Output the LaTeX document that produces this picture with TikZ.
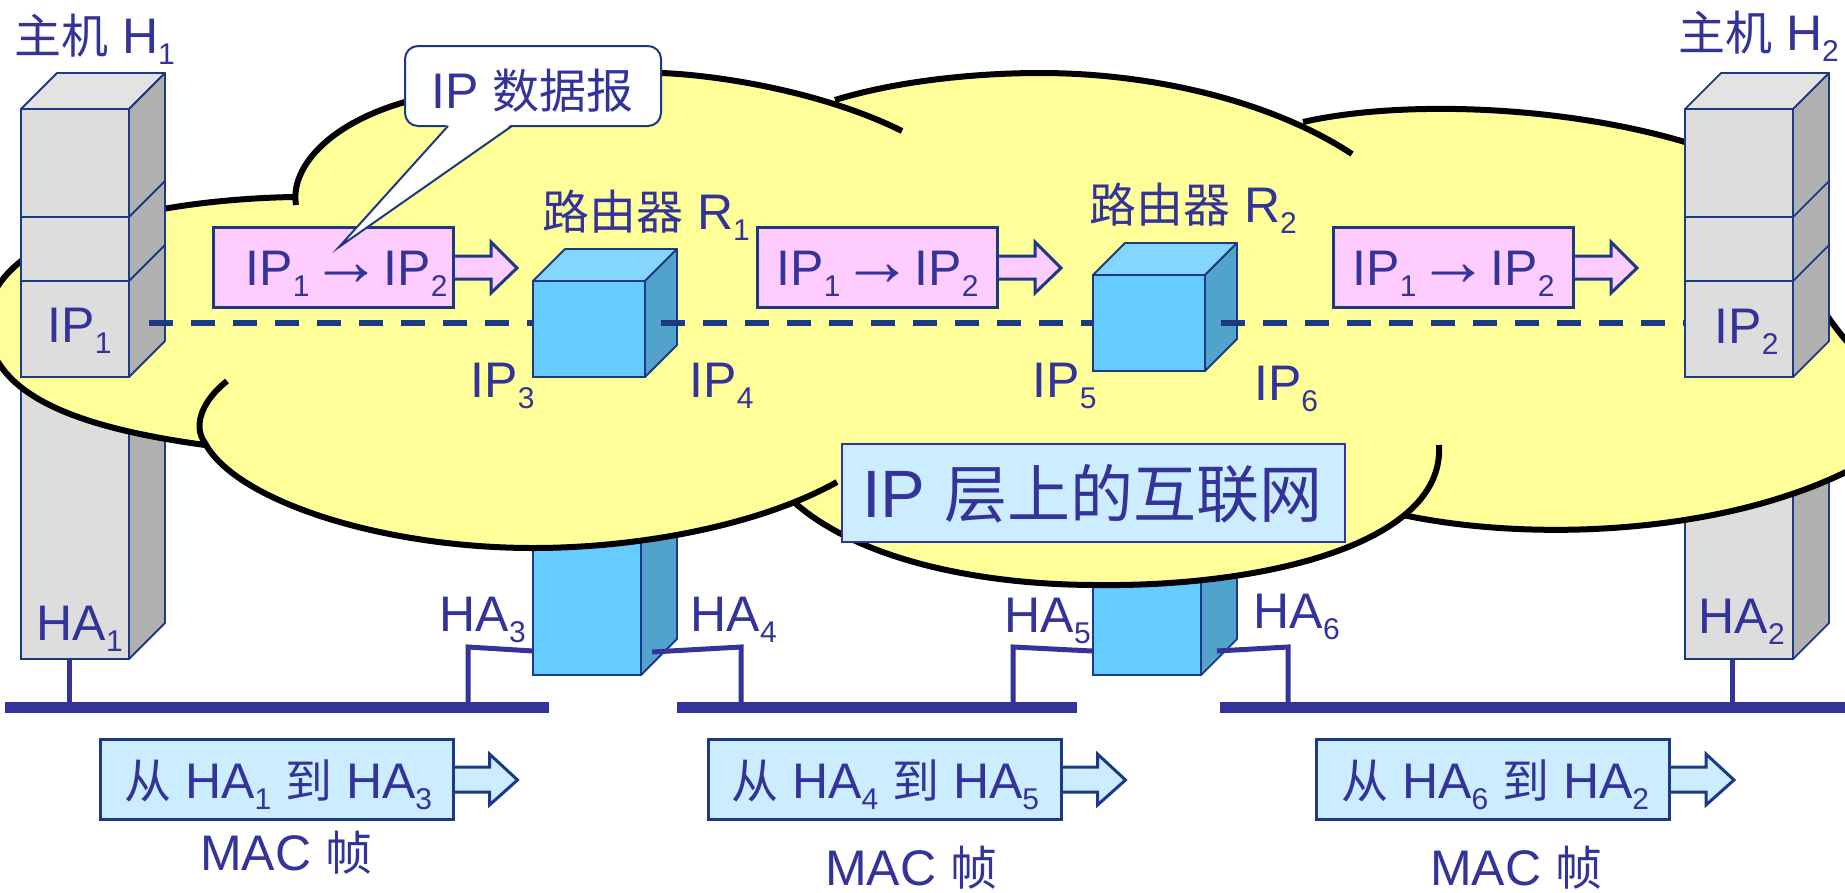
\documentclass[tikz,border=0pt]{standalone}
\usepackage{fontspec}
\setmainfont{Liberation Sans}
\newfontfamily\cjk[Scale=0.94]{Noto Sans CJK SC}
\newcommand{\zh}[1]{{\cjk #1}}
\newcommand{\sbn}[1]{\raisebox{-11pt}{\fontsize{30}{30}\selectfont #1}}

\definecolor{edgeblue}{HTML}{1C3A84}
\definecolor{textblue}{HTML}{333399}
\definecolor{cloudyellow}{HTML}{FFFF99}
\definecolor{packetpink}{HTML}{FFCCFF}
\definecolor{framecyan}{HTML}{CCECFF}
\definecolor{hostfront}{HTML}{DDDDDD}
\definecolor{hosttop}{HTML}{E3E3E3}
\definecolor{hostside}{HTML}{B0B0B0}
\definecolor{routerfront}{HTML}{66CCFF}
\definecolor{routertop}{HTML}{85D6FF}
\definecolor{routerside}{HTML}{52A3CC}

% cloud lobes
\newcommand{\lobea}{(293,197) .. controls (190,199) and (75,218) .. (20,262) .. controls (-15,290) and (-25,330) .. (0,365) .. controls (30,410) and (110,432) .. (205,445)}
\newcommand{\lobeb}{(296,205) .. controls (290,170) and (325,125) .. (405,102) .. controls (480,80) and (590,70) .. (662,73) .. controls (730,76) and (830,95) .. (902,131)}
\newcommand{\lobec}{(227,381) .. controls (203,400) and (192,425) .. (205,443) .. controls (235,500) and (380,548) .. (533,548) .. controls (640,548) and (760,525) .. (837,482)}
\newcommand{\lobed}{(795,503) .. controls (860,560) and (980,585) .. (1097,585) .. controls (1260,587) and (1445,545) .. (1439,445)}
\newcommand{\lobee}{(1403,515) .. controls (1530,542) and (1720,535) .. (1850,470)}
\newcommand{\lobef}{(1303,122) .. controls (1400,100) and (1560,105) .. (1685,142) .. controls (1745,160) and (1800,290) .. (1850,345)}
\newcommand{\lobeg}{(835,100) .. controls (900,80) and (980,73) .. (1040,73) .. controls (1150,73) and (1270,100) .. (1352,154)}

\begin{document}
\begin{tikzpicture}[
        x=1pt, y=-1pt,
        face/.style={draw=edgeblue, line width=1.8pt, inner sep=0pt, outer sep=0pt},
        hostface/.style={face, fill=hostfront, minimum width=108pt},
        routerface/.style={face, fill=routerfront},
        skin/.style={draw=edgeblue, line width=1.8pt, line join=round},
        lbl/.style={anchor=base west, inner sep=0pt, text=textblue, font=\fontsize{50}{60}\selectfont},
        framebox/.style={draw=edgeblue, line width=3pt, inner sep=0pt, outer sep=0pt, minimum height=80pt, minimum width=240pt},
        framearrow/.style={draw=edgeblue, line width=3pt, line join=miter},
        busbar/.style={fill=textblue, inner sep=0pt, outer sep=0pt, minimum height=11pt},
        stub/.style={draw=textblue, line width=5pt, line join=miter},
        cloudline/.style={draw=black, line width=6pt},
        dashlink/.style={draw=edgeblue, line width=5.5pt, dash pattern=on 24pt off 18pt}
    ]
    \path[use as bounding box, clip] (0,0) rectangle (1845,892);

    % lower parts of hosts and routers
    \foreach \hx/\hn in {75/a,1739/b} {
        \node[hostface, minimum height=282pt] (hostlow\hn) at (\hx,518) {};
        \draw[skin, fill=hostside] (hostlow\hn.north east) -- ++(36,-36) -- ++(0,282) -- (hostlow\hn.south east) -- cycle;
    }
    \foreach \rx/\rn in {587/a,1147/b} {
        \node[routerface, minimum width=108pt, minimum height=298pt] (routerlow\rn) at (\rx,526) {};
        \draw[skin, fill=routerside] (routerlow\rn.north east) -- ++(36,-36) -- ++(0,298) -- (routerlow\rn.south east) -- cycle;
    }

    % buses and stubs
    \node[busbar, minimum width=544pt] (busa) at (277,707.5) {};
    \node[busbar, minimum width=400pt] (busb) at (877,707.5) {};
    \node[busbar, minimum width=625pt] (busc) at (1532.5,707.5) {};
    \coordinate (stubhosta) at (69,659);
    \coordinate (stubhostb) at (1732,659);
    \draw[stub] (stubhosta) -- (stubhosta |- busa.north);
    \draw[stub] (stubhostb) -- (stubhostb |- busc.north);
    \foreach \sn/\px/\py/\bx/\by/\bn in {a/533/651/468/647/busa, b/652/652/741/647/busb, c/1092/651/1013/647/busb, d/1217/651/1288/647/busc} {
        \coordinate (port\sn) at (\px,\py);
        \coordinate (bend\sn) at (\bx,\by);
        \draw[stub] (port\sn) -- (bend\sn) -- (bend\sn |- \bn.north);
    }

    % the cloud
    \fill[cloudyellow] (296,205) -- (835,100) -- (1305,122) -- (1830,330) -- (1845,342) -- (1845,472) -- (1403,515) -- (795,503) -- (205,443) -- (0,365) -- (0,282) -- cycle;
    \foreach \lobe in {\lobea,\lobeb,\lobec,\lobed,\lobee,\lobef,\lobeg}
        \fill[cloudyellow] \lobe -- cycle;
    \foreach \lobe in {\lobea,\lobeb,\lobec,\lobed,\lobee,\lobef,\lobeg}
        \draw[cloudline] \lobe;

    % upper parts of hosts
    \foreach \hx/\hn in {75/a,1739/b} {
        \node[hostface, minimum height=108pt] (hosttop\hn) at (\hx,163) {};
        \node[hostface, minimum height=64pt] (hostmid\hn) at (\hx,249) {};
        \node[hostface, minimum height=96pt] (hostip\hn) at (\hx,329) {};
        \draw[skin, fill=hosttop] (hosttop\hn.north west) -- ++(36,-36) -- ++(108,0) -- (hosttop\hn.north east) -- cycle;
        \draw[skin, fill=hostside] (hosttop\hn.north east) -- ++(36,-36) -- ++(0,268) -- (hostip\hn.south east) -- cycle;
        \draw[skin] (hosttop\hn.south east) -- ++(36,-36);
        \draw[skin] (hostmid\hn.south east) -- ++(36,-36);
    }

    % upper parts of routers
    \node[routerface, minimum width=112pt, minimum height=96pt] (routerupa) at (589,329) {};
    \node[routerface, minimum width=112pt, minimum height=96pt] (routerupb) at (1149,323) {};
    \foreach \rn in {a,b} {
        \draw[skin, fill=routertop] (routerup\rn.north west) -- ++(32,-32) -- ++(112,0) -- (routerup\rn.north east) -- cycle;
        \draw[skin, fill=routerside] (routerup\rn.north east) -- ++(32,-32) -- ++(0,96) -- (routerup\rn.south east) -- cycle;
    }

    % dashed line across the IP layer
    \coordinate (dashstarta) at (149,323);
    \coordinate (dashstartb) at (661,323);
    \coordinate (dashstartc) at (1221,323);
    \draw[dashlink] (dashstarta) -- (dashstarta -| routerupa.west);
    \draw[dashlink] (dashstartb) -- (dashstartb -| routerupb.west);
    \draw[dashlink] (dashstartc) -- (dashstartc -| hostipb.west);

    % IP datagrams
    \foreach \px/\tx/\pn in {333/245.5/a,877/776.5/b,1453/1352.5/c} {
        \draw[framearrow, fill=packetpink] (\px+120,256) -- ++(38,0) -- ++(0,-14) -- ++(26,26) -- ++(-26,25) -- ++(0,-14) -- ++(-38,0) -- cycle;
        \node[framebox, fill=packetpink] (packet\pn) at (\px,267) {};
        \node[lbl] (packettext\pn) at (\tx,285) {IP\sbn{1}\hspace{1pt}{\fontsize{72}{72}\selectfont →}\hspace{1pt}IP\sbn{2}};
    }

    % MAC frames
    \foreach \fx/\tx/\mx/\my/\fn/\from/\to in {276.5/124/200/870/a/1/3, 884.5/731/825/885/b/4/5, 1493/1341/1430/885/c/6/2} {
        \draw[framearrow, fill=framecyan] (\fx+176,767) -- ++(37,0) -- ++(0,-13) -- ++(28,26) -- ++(-28,25) -- ++(0,-13) -- ++(-37,0) -- cycle;
        \node[framebox, fill=framecyan, minimum width=353pt] (frame\fn) at (\fx,779) {};
        \node[lbl] (frametext\fn) at (\tx,798) {\zh{从} HA\sbn{\from} \zh{到} HA\sbn{\to}};
        \node[lbl] (maclabel\fn) at (\mx,\my) {MAC \zh{帧}};
    }

    % callout
    \node[draw=edgeblue, line width=2pt, fill=white, rounded corners=13pt, inner sep=0pt, minimum width=256pt, minimum height=80pt] (callout) at (533,86) {};
    \coordinate (callouttip) at (339,247);
    \coordinate (calloutleft) at (448,126);
    \coordinate (calloutright) at (512,126);
    \fill[white] ([yshift=2pt]calloutleft) -- (callouttip) -- ([yshift=2pt]calloutright) -- cycle;
    \draw[draw=edgeblue, line width=2pt, line join=miter] (calloutleft) -- (callouttip) -- (calloutright);
    \node[lbl] (callouttext) at (431.5,108) {IP \zh{数据报}};

    % big label
    \node[draw=textblue, fill=framecyan, line width=2.5pt, inner sep=0pt, minimum width=503pt, minimum height=98pt] (internetbox) at (1093.5,493) {};
    \node[lbl, font=\fontsize{67}{70}\selectfont] (internetlabel) at (862,517) {IP \zh{层上的互联网}};

    % labels
    \node[lbl] (hostlabela) at (14,53) {\zh{主机} H\sbn{1}};
    \node[lbl] (hostlabelb) at (1678,50) {\zh{主机} H\sbn{2}};
    \node[lbl] (routerlabela) at (542,229) {\zh{路由器} R\sbn{1}};
    \node[lbl] (routerlabelb) at (1089,222) {\zh{路由器} R\sbn{2}};
    \node[lbl] (ipa) at (47.5,342) {IP\sbn{1}};
    \node[lbl] (ipb) at (1714.5,343) {IP\sbn{2}};
    \node[lbl] (ipc) at (470.5,397) {IP\sbn{3}};
    \node[lbl] (ipd) at (689.5,397) {IP\sbn{4}};
    \node[lbl] (ipe) at (1032.5,397) {IP\sbn{5}};
    \node[lbl] (ipf) at (1254,400) {IP\sbn{6}};
    \node[lbl] (haa) at (36.5,640) {HA\sbn{1}};
    \node[lbl] (hab) at (1698.5,633) {HA\sbn{2}};
    \node[lbl] (hac) at (439.5,631) {HA\sbn{3}};
    \node[lbl] (had) at (690.5,631) {HA\sbn{4}};
    \node[lbl] (hae) at (1004.5,632) {HA\sbn{5}};
    \node[lbl] (haf) at (1253.5,628) {HA\sbn{6}};
\end{tikzpicture}
\end{document}
